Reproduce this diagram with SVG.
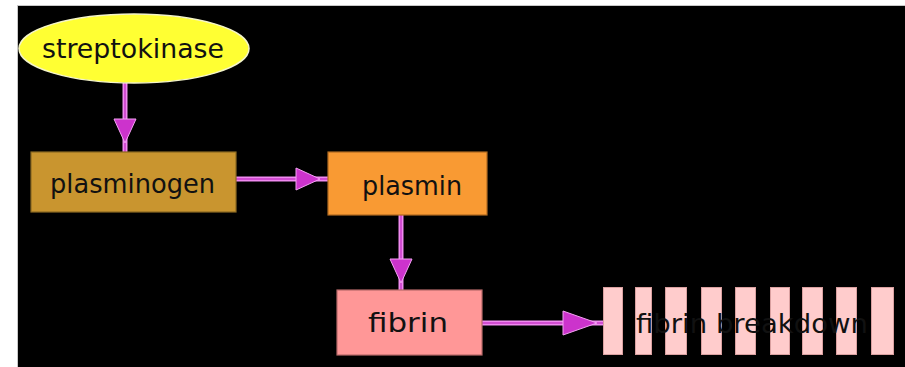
<svg xmlns="http://www.w3.org/2000/svg" width="905" height="367" viewBox="0 0 905 367">
<defs>
<style>
.lbl{font-family:"DejaVu Sans","Liberation Sans",sans-serif;font-size:27px;fill:#111;text-anchor:start}
.edge{fill:none;stroke:#f08af0;stroke-width:5}
.core{fill:none;stroke:#c838c8;stroke-width:1.5}
.box{stroke-width:1.2}
.bar{fill:#ffcccc;stroke:#d9a0a0;stroke-width:1}
</style>
<marker id="ah" markerUnits="userSpaceOnUse" markerWidth="28" markerHeight="28" refX="25" refY="12" orient="auto">
<path d="M1,1 L25,12 L1,23 Z" fill="#cc33cc" stroke="#f3a0f3" stroke-width="1"/>
</marker>
<marker id="ahl" markerUnits="userSpaceOnUse" markerWidth="38" markerHeight="30" refX="35" refY="13" orient="auto">
<path d="M1,1 L35,13 L1,25 Z" fill="#cc33cc" stroke="#f3a0f3" stroke-width="1"/>
</marker>
</defs>
<rect x="0" y="0" width="905" height="367" fill="#ffffff"/>
<rect x="17" y="5" width="888" height="362" fill="#c8c8c8"/>
<rect x="18" y="6" width="887" height="361" fill="#000000"/>

<g id="connectors">
<path class="edge" d="M125,83 L125,152"/>
<path class="core" d="M125,83 L125,143 L125,152" marker-mid="url(#ah)"/>
<path class="edge" d="M236,179 L328,179"/>
<path class="core" d="M236,179 L320,179 L328,179" marker-mid="url(#ah)"/>
<path class="edge" d="M401,215 L401,290"/>
<path class="core" d="M401,215 L401,283 L401,290" marker-mid="url(#ah)"/>
<path class="edge" d="M482,323 L603,323"/>
<path class="core" d="M482,323 L597,323 L603,323" marker-mid="url(#ahl)"/>
</g>

<g id="streptokinase">
<ellipse cx="134" cy="48.5" rx="115" ry="34.5" fill="#ffff33" stroke="#f4f4c8" stroke-width="1.5"/>
<text class="lbl" x="42" y="58" textLength="182" lengthAdjust="spacingAndGlyphs">streptokinase</text>
</g>

<g id="plasminogen">
<rect class="box" x="31" y="152" width="205" height="60" fill="#c9952f" stroke="#8c6a22"/>
<text class="lbl" x="50" y="193" textLength="165" lengthAdjust="spacingAndGlyphs">plasminogen</text>
</g>

<g id="plasmin">
<rect class="box" x="328" y="152" width="159" height="63" fill="#f99a33" stroke="#b06a20"/>
<text class="lbl" x="362" y="195" textLength="100" lengthAdjust="spacingAndGlyphs">plasmin</text>
</g>

<g id="fibrin">
<rect class="box" x="337" y="290" width="145" height="65" fill="#ff9797" stroke="#b86a6a"/>
<text class="lbl" x="368" y="332" textLength="80" lengthAdjust="spacingAndGlyphs">fibrin</text>
</g>

<g id="fibrin-breakdown">
<rect class="bar" x="603.5" y="287.5" width="19" height="67"/>
<rect class="bar" x="635.5" y="287.5" width="16" height="67"/>
<rect class="bar" x="665.5" y="287.5" width="21" height="67"/>
<rect class="bar" x="701.5" y="287.5" width="20" height="67"/>
<rect class="bar" x="735.5" y="287.5" width="20" height="67"/>
<rect class="bar" x="770.5" y="287.5" width="19" height="67"/>
<rect class="bar" x="802.5" y="287.5" width="20" height="67"/>
<rect class="bar" x="836.5" y="287.5" width="20" height="67"/>
<rect class="bar" x="871.5" y="287.5" width="22" height="67"/>
<text class="lbl" x="636" y="333" textLength="232" lengthAdjust="spacingAndGlyphs" fill="#000">fibrin breakdown</text>
</g>
</svg>
